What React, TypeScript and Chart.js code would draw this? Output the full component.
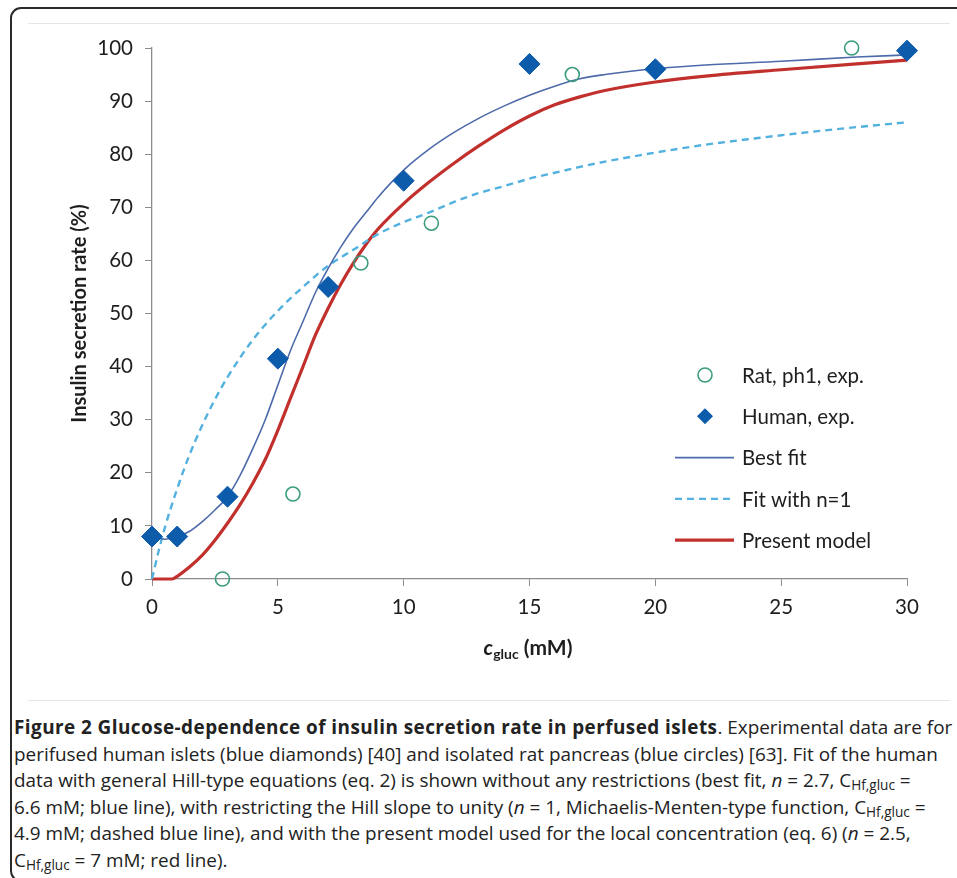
import React, { useEffect, useRef } from 'react';
import { Chart, registerables } from 'chart.js';

Chart.register(...registerables);

// ---- data ----
const ratX = [2.8, 5.6, 8.3, 11.1, 16.7, 27.8];
const ratY = [0, 16, 59.5, 67, 95, 100];

const humanX = [0, 1, 3, 5, 7, 10, 15, 20, 30];
const humanY = [8, 8, 15.5, 41.5, 55, 75, 97, 96, 99.5];

const bestFitX = [0, 0.5, 1, 1.5, 2, 2.5, 3, 3.5, 4, 4.5, 5, 5.5, 6, 6.5, 7, 7.5, 8, 8.5, 9, 10, 11, 12, 13, 14, 15, 16, 17, 18, 20, 22, 25, 28, 30];
const bestFitY = [8, 7.5, 8, 9, 10.8, 13, 15.5, 19.5, 24.5, 30, 36.5, 43, 48.5, 54, 58.5, 62.5, 66, 69, 72, 77, 80.9, 84.1, 86.8, 89.1, 91.1, 92.8, 94.2, 95.0, 96.1, 96.8, 97.5, 98.3, 98.7];

const fitN1X = [0, 0.25, 0.5, 1, 1.5, 2, 2.5, 3, 4, 5, 6, 7, 8, 9, 10, 11, 12, 13, 14, 15, 16, 17, 18, 20, 22, 24, 26, 28, 30];
const fitN1Y = [0, 5, 9.5, 17, 23.5, 29, 33.8, 38, 45, 50.5, 55, 59, 62, 65, 67.2, 69, 71, 72.7, 74, 75.4, 76.5, 77.6, 78.6, 80.3, 81.8, 83, 84.1, 85.1, 86];

const modelX = [0, 0.5, 0.8, 1, 1.5, 2, 2.5, 3, 3.5, 4, 4.5, 5, 5.5, 6, 6.5, 7, 7.5, 8, 8.5, 9, 10, 11, 12, 13, 14, 15, 16, 17, 18, 20, 22, 25, 28, 30];
const modelY = [0, 0, 0, 0.5, 2.3, 4.5, 7.3, 10.5, 14, 18, 22.5, 28, 34, 40, 46, 51, 55.5, 59.5, 63, 66, 70.7, 74.7, 78.3, 81.6, 84.6, 87.2, 89.3, 90.8, 92, 93.6, 94.7, 95.9, 97, 97.7];

const xTicks = [0, 5, 10, 15, 20, 25, 30];
const yTicks = [0, 10, 20, 30, 40, 50, 60, 70, 80, 90, 100];

const seriesLabels = ['Rat, ph1, exp.', 'Human, exp.', 'Best fit', 'Fit with n=1', 'Present model'];
const yTitle = 'Insulin secretion rate (%)';

// ---- styles ----
const AXIS = '#8c8c8c';
const TEXT = '#1e1e1e';
const FONT = 'Lato, "Open Sans", sans-serif';
const RAT_COLOR = '#3a9c7e';
const HUMAN_COLOR = '#0d5bab';
const BEST_COLOR = '#4d6aaa';
const N1_COLOR = '#52b1de';
const MODEL_COLOR = '#c1302c';

const pts = (xs: number[], ys: number[]) => xs.map((x, i) => ({ x, y: ys[i] }));

const insideLegend = {
  id: 'insideLegend',
  afterDatasetsDraw(chart: any) {
    const { ctx, chartArea } = chart;
    const cx = chartArea.right - 202;
    const tx = chartArea.right - 165;
    const y0 = chartArea.bottom - 204;
    const step = 41.3;
    ctx.save();
    chart.data.datasets.forEach((ds: any, i: number) => {
      const y = y0 + i * step;
      if (!ds.showLine) {
        ctx.beginPath();
        if (ds.pointStyle === 'rectRot') {
          const r = 8;
          ctx.moveTo(cx - r, y);
          ctx.lineTo(cx, y - r);
          ctx.lineTo(cx + r, y);
          ctx.lineTo(cx, y + r);
          ctx.closePath();
          ctx.fillStyle = ds.backgroundColor;
          ctx.fill();
        } else {
          ctx.arc(cx, y, 7, 0, Math.PI * 2);
          ctx.lineWidth = ds.borderWidth;
          ctx.strokeStyle = ds.borderColor;
          ctx.stroke();
        }
      } else {
        ctx.beginPath();
        ctx.setLineDash(ds.borderDash || []);
        ctx.lineWidth = ds.borderWidth;
        ctx.strokeStyle = ds.borderColor;
        ctx.moveTo(cx - 30, y);
        ctx.lineTo(cx + 29, y);
        ctx.stroke();
        ctx.setLineDash([]);
      }
      ctx.fillStyle = TEXT;
      ctx.font = `20.5px ${FONT}`;
      ctx.textAlign = 'left';
      ctx.textBaseline = 'middle';
      ctx.fillText(ds.label, tx, y + 1);
    });
    ctx.restore();
  },
};

function ChartCanvas() {
  const ref = useRef<HTMLCanvasElement | null>(null);
  useEffect(() => {
    if (!ref.current) return;
    const chart = new Chart(ref.current, {
      type: 'scatter',
      data: {
        datasets: [
          {
            label: seriesLabels[0],
            data: pts(ratX, ratY),
            showLine: false,
            pointStyle: 'circle',
            pointRadius: 7,
            borderColor: RAT_COLOR,
            backgroundColor: 'rgba(0,0,0,0)',
            borderWidth: 1.6,
            clip: false,
          },
          {
            label: seriesLabels[1],
            data: pts(humanX, humanY),
            showLine: false,
            pointStyle: 'rectRot',
            pointRadius: 10.5,
            borderColor: HUMAN_COLOR,
            backgroundColor: HUMAN_COLOR,
            borderWidth: 1,
            clip: false,
          },
          {
            label: seriesLabels[2],
            data: pts(bestFitX, bestFitY),
            showLine: true,
            pointRadius: 0,
            borderColor: BEST_COLOR,
            backgroundColor: BEST_COLOR,
            borderWidth: 1.6,
            cubicInterpolationMode: 'monotone',
            clip: false,
          },
          {
            label: seriesLabels[3],
            data: pts(fitN1X, fitN1Y),
            showLine: true,
            pointRadius: 0,
            borderColor: N1_COLOR,
            backgroundColor: N1_COLOR,
            borderWidth: 2.4,
            borderDash: [7, 5],
            cubicInterpolationMode: 'monotone',
            clip: false,
          },
          {
            label: seriesLabels[4],
            data: pts(modelX, modelY),
            showLine: true,
            pointRadius: 0,
            borderColor: MODEL_COLOR,
            backgroundColor: MODEL_COLOR,
            borderWidth: 3.2,
            cubicInterpolationMode: 'monotone',
            clip: false,
          },
        ] as any,
      },
      options: {
        responsive: false,
        animation: false,
        devicePixelRatio: 1,
        events: [],
        layout: { padding: { left: 0, top: 48, right: 50, bottom: 0 } },
        plugins: { legend: { display: false }, tooltip: { enabled: false } },
        scales: {
          x: {
            type: 'linear',
            min: 0,
            max: 30,
            afterBuildTicks: (s: any) => { s.ticks = xTicks.map((v) => ({ value: v })); },
            afterFit: (s: any) => { s.height = 121; },
            grid: { drawOnChartArea: false, drawTicks: true, tickLength: 7, color: AXIS },
            border: { display: true, color: AXIS, width: 1.3 },
            ticks: { font: { family: FONT, size: 20.5 }, color: TEXT, padding: 9, maxRotation: 0 },
          },
          y: {
            type: 'linear',
            min: 0,
            max: 100,
            afterBuildTicks: (s: any) => { s.ticks = yTicks.map((v) => ({ value: v })); },
            afterFit: (s: any) => { s.width = 152; },
            grid: { drawOnChartArea: false, drawTicks: true, tickLength: 7, color: AXIS },
            border: { display: true, color: AXIS, width: 1.3 },
            ticks: { font: { family: FONT, size: 20.5 }, color: TEXT, padding: 12 },
            title: {
              display: true,
              text: yTitle,
              color: TEXT,
              font: { family: FONT, size: 20, weight: 'bold' },
              padding: { top: 68, bottom: 0 },
            },
          },
        },
      } as any,
      plugins: [insideLegend],
    });
    return () => chart.destroy();
  }, []);
  return <canvas ref={ref} width={957} height={700} style={{ position: 'absolute', left: 0, top: 0, display: 'block' }} />;
}

const sub: React.CSSProperties = { fontSize: '0.72em', verticalAlign: '-0.25em', lineHeight: 0 };

export default function App() {
  return (
    <div style={{ position: 'fixed', left: 0, top: 0, width: 957, height: 878, overflow: 'hidden', background: '#fff' }}>
      <div style={{ position: 'absolute', left: 10, top: 7, width: 980, height: 875, border: '2px solid #2a2a2a', borderRadius: 11, boxSizing: 'border-box' }} />
      <div style={{ position: 'absolute', left: 28, top: 23, width: 922, height: 1, background: '#e6e6e6' }} />
      <div style={{ position: 'absolute', left: 28, top: 700, width: 922, height: 1, background: '#e6e6e6' }} />
      <ChartCanvas />
      <div style={{ position: 'absolute', left: 428, top: 634, width: 200, textAlign: 'center', lineHeight: '26px', fontFamily: FONT, fontWeight: 'bold', fontSize: 21, color: TEXT }}>
        <i>c</i><span style={{ fontSize: 14, verticalAlign: '-0.3em' }}>gluc</span> (mM)
      </div>
      <div style={{ position: 'absolute', left: 14, top: 714, width: 960, fontFamily: '"Open Sans", sans-serif', fontSize: 18.9, lineHeight: '26.6px', color: '#222', whiteSpace: 'nowrap' }}>
        <div><b style={{ letterSpacing: '0.45px' }}>Figure 2 Glucose-dependence of insulin secretion rate in perfused islets</b>. Experimental data are for</div>
        <div>perifused human islets (blue diamonds) [40] and isolated rat pancreas (blue circles) [63]. Fit of the human</div>
        <div>data with general Hill-type equations (eq. 2) is shown without any restrictions (best fit, <i>n</i> = 2.7, C<span style={sub}>Hf,gluc</span> =</div>
        <div>6.6 mM; blue line), with restricting the Hill slope to unity (<i>n</i> = 1, Michaelis-Menten-type function, C<span style={sub}>Hf,gluc</span> =</div>
        <div>4.9 mM; dashed blue line), and with the present model used for the local concentration (eq. 6) (<i>n</i> = 2.5,</div>
        <div>C<span style={sub}>Hf,gluc</span> = 7 mM; red line).</div>
      </div>
    </div>
  );
}
